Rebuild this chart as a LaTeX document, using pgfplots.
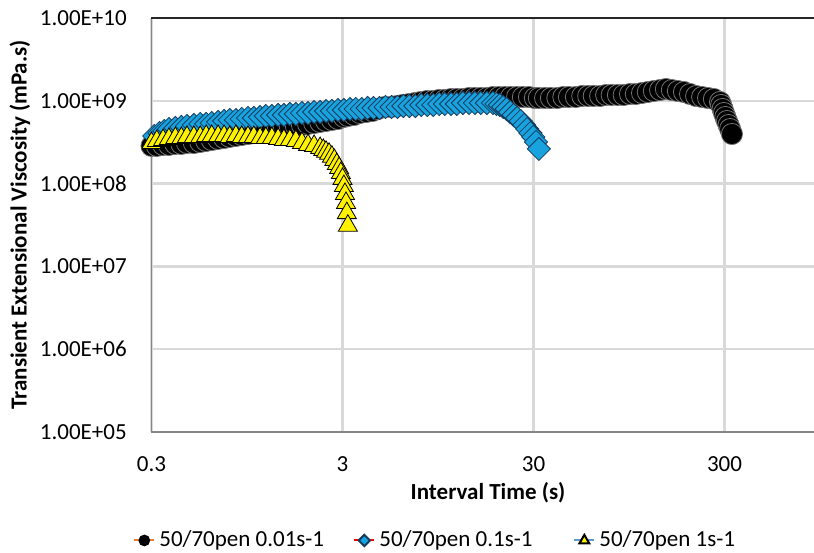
\documentclass[border=0pt]{standalone}
\usepackage{pgfplots}
\pgfplotsset{compat=1.18}
\usepackage{fontspec}
\setmainfont{Carlito}

\definecolor{gridgray}{RGB}{217,217,217}
\definecolor{axisgray}{RGB}{134,134,134}
\definecolor{diamondblue}{RGB}{24,163,222}
\definecolor{diamondedge}{RGB}{20,60,95}
\definecolor{legorange}{RGB}{237,125,49}
\definecolor{legred}{RGB}{255,0,0}
\definecolor{legblue}{RGB}{91,155,213}

\begin{document}
\begin{tikzpicture}[font=\fontsize{11.5}{13.8}\selectfont]
\begin{axis}[
  scale only axis, width=331.25pt, height=207pt,
  at={(0pt,0pt)}, anchor=south west,
  xmode=log, ymode=log,
  xmin=0.3, xmax=882, ymin=1e5, ymax=1e10,
  xtick={0.3,3,30,300}, xticklabels={0.3,3,30,300},
  ytick={1e5,1e6,1e7,1e8,1e9,1e10},
  yticklabels={1.00E+05,1.00E+06,1.00E+07,1.00E+08,1.00E+09,1.00E+10},
  major tick length=0pt, minor tick length=0pt,
  axis line style={draw=none},
  grid=major, major grid style={gridgray, line width=1.2pt},
  clip=false,
  yticklabel style={anchor=east, inner sep=0pt, xshift=-12.2pt},
  xticklabel style={anchor=north, inner sep=0pt, yshift=-12pt},
  xlabel={\textbf{Interval Time (s)}},
  xlabel style={at={(axis description cs:0.508,0)}, anchor=center, yshift=-30.5pt},
  ylabel={\textbf{Transient Extensional Viscosity (mPa.s)}},
  ylabel style={at={(axis description cs:-0.1985,0.5)}, anchor=center, rotate=0},
  legend columns=3,
  legend style={at={(axis description cs:-0.028,-0.262)}, anchor=west,
    draw=none, fill=none, inner sep=0pt, column sep=0pt},
  legend image code/.code={%
    \draw[mark repeat=2, mark phase=2, #1] plot coordinates {(0pt,0pt) (5pt,0pt) (10pt,0pt)};},
]
% frame: grey left and bottom, dark top edge
\draw[axisgray, line width=0.6pt] (rel axis cs:0,0) -- (rel axis cs:1,0);
\draw[axisgray, line width=0.6pt] (rel axis cs:0,0) -- (rel axis cs:0,1);
\draw[black!85, line width=0.9pt] (rel axis cs:0,1) -- (rel axis cs:1,1);

% 50/70pen, strain rate 0.01 1/s
\addplot[only marks, forget plot, mark=*, mark size=5.3pt,
  mark options={fill=black, draw=black!55, line width=0.4pt}] coordinates {
(0.30,2.85e8) (0.32,2.85e8) (0.345,2.93e8) (0.37,2.93e8) (0.40,3.01e8) (0.43,3.01e8)
(0.46,3.09e8) (0.50,3.09e8) (0.54,3.18e8) (0.58,3.27e8) (0.62,3.36e8) (0.67,3.46e8)
(0.72,3.55e8) (0.77,3.66e8) (0.83,3.76e8) (0.89,3.86e8) (0.96,3.97e8) (1.03,4.08e8)
(1.11,4.20e8) (1.19,4.32e8) (1.28,4.56e8) (1.38,4.69e8) (1.48,4.83e8) (1.59,4.83e8)
(1.71,4.96e8) (1.84,5.10e8) (1.98,5.25e8) (2.13,5.39e8) (2.29,5.55e8) (2.46,5.70e8)
(2.64,5.86e8) (2.84,6.03e8) (3.05,6.37e8)
(3.2,6.55e8) (3.45,6.74e8) (3.7,7.12e8) (4.0,7.32e8) (4.3,7.53e8) (4.6,7.96e8)
(5.0,8.42e8) (5.4,8.42e8) (5.8,8.65e8) (6.2,8.90e8) (6.7,9.15e8) (7.2,9.41e8)
(7.7,9.67e8) (8.3,9.94e8) (8.9,9.94e8) (9.6,1.023e9) (10.3,1.023e9) (11.1,1.051e9)
(11.9,1.051e9) (12.8,1.051e9) (13.8,1.081e9) (14.8,1.081e9) (15.9,1.081e9) (17.1,1.081e9)
(18.4,1.111e9) (19.8,1.111e9) (21.3,1.111e9) (22.9,1.111e9) (24.6,1.111e9) (26.4,1.111e9)
(28.4,1.111e9) (30.5,1.081e9)
(32,1.081e9) (34.5,1.081e9) (37,1.081e9) (40,1.081e9) (43,1.111e9) (46,1.111e9)
(50,1.111e9) (54,1.143e9) (58,1.143e9) (62,1.143e9) (67,1.143e9) (72,1.175e9)
(77,1.175e9) (83,1.175e9) (89,1.175e9) (96,1.208e9) (103,1.208e9) (111,1.243e9)
(119,1.277e9) (128,1.313e9) (138,1.350e9) (148,1.389e9) (159,1.350e9) (171,1.313e9)
(184,1.277e9) (198,1.208e9) (213,1.143e9) (229,1.111e9) (246,1.081e9) (264,1.051e9)
(284,9.67e8) (288,8.90e8) (293,7.96e8) (298,7.12e8) (303,6.37e8) (309,5.70e8)
(315,5.10e8) (321,4.56e8) (328,3.97e8)
};

% 50/70pen, strain rate 0.1 1/s
\addplot[only marks, forget plot, mark=square*, mark size=4.1pt,
  mark options={rotate=45, fill=diamondblue, draw=diamondedge, line width=0.4pt}] coordinates {
(0.31,3.76e8) (0.33,4.08e8) (0.35,4.32e8) (0.37,4.56e8) (0.40,4.69e8) (0.43,4.83e8)
(0.46,4.96e8) (0.50,5.10e8) (0.54,5.25e8) (0.58,5.25e8) (0.62,5.39e8) (0.67,5.55e8)
(0.72,5.70e8) (0.77,5.86e8) (0.83,5.86e8) (0.89,6.03e8) (0.96,6.20e8) (1.03,6.20e8)
(1.11,6.37e8) (1.19,6.55e8) (1.28,6.55e8) (1.38,6.74e8) (1.48,6.74e8) (1.59,6.93e8)
(1.71,6.93e8) (1.84,7.12e8) (1.98,7.12e8) (2.13,7.32e8) (2.29,7.32e8) (2.46,7.53e8)
(2.64,7.53e8) (2.84,7.74e8) (3.05,7.74e8) (3.28,7.96e8) (3.52,7.96e8) (3.78,7.96e8)
(4.06,8.18e8) (4.36,8.18e8) (4.69,8.18e8) (5.04,8.42e8) (5.42,8.42e8) (5.82,8.42e8)
(6.25,8.65e8) (6.72,8.65e8) (7.22,8.65e8) (7.76,8.90e8) (8.34,8.90e8) (8.96,8.90e8)
(9.63,9.15e8) (10.3,9.15e8) (11.1,9.15e8) (11.9,9.15e8) (12.8,9.41e8) (13.8,9.41e8)
(14.8,9.41e8) (15.9,9.41e8) (17.1,9.41e8) (18.4,9.41e8) (19.2,9.15e8) (20.0,8.90e8)
(20.8,8.42e8) (21.7,7.96e8) (22.6,7.32e8) (23.6,6.74e8) (24.6,6.20e8) (25.7,5.70e8)
(26.8,5.10e8) (27.8,4.56e8) (28.9,4.08e8) (29.9,3.66e8) (30.9,3.18e8) (32.0,2.62e8)
};

% 50/70pen, strain rate 1 1/s
\addplot[only marks, forget plot, mark=triangle*, mark size=5.5pt,
  mark options={fill=yellow, draw=black, line width=0.4pt}] coordinates {
(0.30,3.09e8) (0.32,3.27e8) (0.345,3.36e8) (0.37,3.46e8) (0.40,3.55e8) (0.43,3.55e8)
(0.46,3.66e8) (0.50,3.66e8) (0.54,3.66e8) (0.58,3.76e8) (0.62,3.76e8) (0.67,3.76e8)
(0.72,3.76e8) (0.77,3.66e8) (0.83,3.76e8) (0.89,3.66e8) (0.96,3.66e8) (1.03,3.66e8)
(1.11,3.55e8) (1.19,3.55e8) (1.28,3.55e8) (1.38,3.46e8) (1.48,3.36e8) (1.59,3.36e8)
(1.71,3.27e8) (1.84,3.09e8) (1.98,2.93e8) (2.13,2.85e8) (2.29,2.69e8) (2.38,2.55e8)
(2.46,2.42e8) (2.55,2.29e8) (2.64,2.11e8) (2.72,1.93e8) (2.80,1.72e8) (2.88,1.54e8)
(2.94,1.34e8) (3.00,1.14e8) (3.05,9.35e7) (3.09,7.50e7) (3.13,5.84e7) (3.16,4.40e7)
(3.20,3.10e7)
};

\addlegendimage{legorange, line width=1pt, mark=*, mark size=2.4pt,
  mark options={solid, fill=black, draw=black}}
\addlegendentry{\makebox[95pt][l]{50/70pen 0.01s-1}}
\addlegendimage{legred, line width=1pt, mark=square*, mark size=2pt,
  mark options={solid, rotate=45, fill=diamondblue, draw=diamondedge}}
\addlegendentry{\makebox[95pt][l]{50/70pen 0.1s-1}}
\addlegendimage{legblue, line width=1pt, mark=triangle*, mark size=2.8pt,
  mark options={solid, fill=yellow, draw=black}}
\addlegendentry{50/70pen 1s-1}
\end{axis}
\pgfresetboundingbox
\path (-75.75pt,-60pt) rectangle (331.25pt,216pt);
\end{tikzpicture}
\end{document}
